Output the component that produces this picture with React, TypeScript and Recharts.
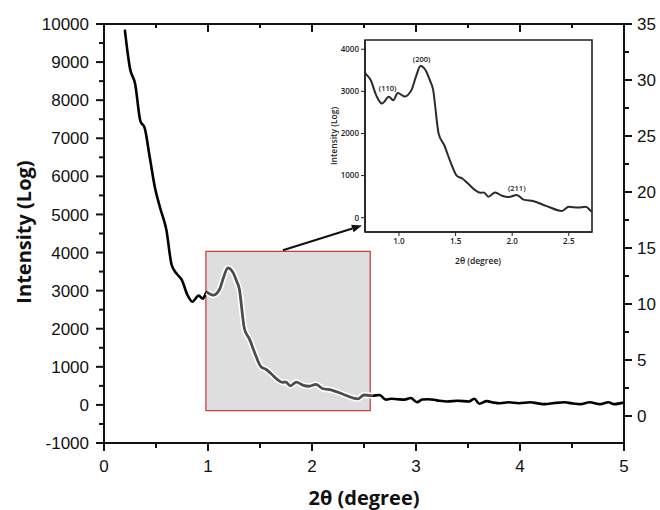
import {
  ComposedChart,
  Line,
  XAxis,
  YAxis,
  ReferenceArea,
  ReferenceLine,
  ReferenceDot,
} from 'recharts'

// SAXS pattern: 2θ (degree) vs intensity
const twoTheta = [
  0.2, 0.25, 0.3, 0.35, 0.39, 0.44, 0.49, 0.54, 0.6, 0.65, 0.7, 0.75, 0.8, 0.85,
  0.91, 0.95, 0.99, 1.05, 1.11, 1.15, 1.19, 1.24, 1.275, 1.3, 1.35, 1.4, 1.46,
  1.51, 1.56, 1.61, 1.67, 1.72, 1.75, 1.79, 1.85, 1.91, 1.97, 2.04, 2.1, 2.19,
  2.3, 2.44, 2.5, 2.58, 2.65, 2.71, 2.76, 2.82, 2.89, 2.95, 3.01, 3.06, 3.12,
  3.2, 3.3, 3.4, 3.51, 3.56, 3.61, 3.68, 3.75, 3.81, 3.89, 3.99, 4.1, 4.17,
  4.24, 4.33, 4.43, 4.5, 4.58, 4.67, 4.77, 4.85, 4.9, 4.99,
]
const intensity = [
  9850, 8830, 8420, 7450, 7280, 6500, 5700, 5170, 4590, 3680, 3440, 3270, 2900,
  2710, 2870, 2790, 2960, 2880, 3030, 3350, 3600, 3480, 3250, 3060, 2000, 1720,
  1290, 1000, 930, 810, 660, 590, 600, 500, 600, 520, 490, 540, 430, 390, 280,
  160, 260, 240, 260, 140, 160, 150, 140, 180, 70, 140, 150, 120, 90, 110, 90,
  160, 30, 100, 60, 45, 70, 45, 70, 40, 20, 50, 70, 40, 20, 70, 20, 70, 20, 60,
]

// axis ticks
const xTicks = [0, 0.5, 1, 1.5, 2, 2.5, 3, 3.5, 4, 4.5, 5]
const leftTicks = [
  -1000, -500, 0, 500, 1000, 1500, 2000, 2500, 3000, 3500, 4000, 4500, 5000,
  5500, 6000, 6500, 7000, 7500, 8000, 8500, 9000, 9500, 10000,
]
const rightTicks = [0, 2.5, 5, 7.5, 10, 12.5, 15, 17.5, 20, 22.5, 25, 27.5, 30, 32.5, 35]
const insetXTicks = [1.0, 1.5, 2.0, 2.5]
const insetYTicks = [0, 1000, 2000, 3000, 4000]

// zoomed region and arrow (data units)
const boxTheta = [0.98, 2.56]
const boxIntensity = [-150, 4030]
const arrowTheta = [1.72, 2.48]
const arrowIntensity = [4060, 4710]

// peak indices in the inset
const peakLabels = ['(110)', '(200)', '(211)']
const peakTheta = [0.9, 1.2, 2.04]
const peakHeight = [3080, 3760, 700]

const Y_TOP = 10000

const chartData = twoTheta.map((t, i) => ({
  t,
  y: intensity[i],
  inBox: t >= boxTheta[0] && t <= 2.58 ? intensity[i] : null,
}))

// top frame edge: one point per tick position
const topEdgeData = xTicks.map((t) => ({ t, edge: Y_TOP }))

const AXIS = '#111'
const TICK_FONT = {
  fontFamily: '"Liberation Sans", Arial, sans-serif',
  fontSize: 17,
  fill: '#111',
}
const SMALL_FONT = {
  fontFamily: '"Open Sans", sans-serif',
  fontSize: 8,
  fontWeight: 600,
  fill: '#222',
}

function BottomTick({ x, y, payload }: any) {
  const major = Number.isInteger(payload.value)
  return (
    <g>
      <line x1={x} x2={x} y1={y} y2={y + (major ? 8 : 5)} stroke={AXIS} strokeWidth={2} />
      {major && (
        <text x={x} y={y + 29} textAnchor="middle" {...TICK_FONT}>
          {payload.value}
        </text>
      )}
    </g>
  )
}

function LeftTick({ x, y, payload }: any) {
  const major = payload.value % 1000 === 0
  return (
    <g>
      <line x1={x - (major ? 8 : 5)} x2={x} y1={y} y2={y} stroke={AXIS} strokeWidth={2} />
      {major && (
        <text x={x - 15} y={y} dy="0.36em" textAnchor="end" {...TICK_FONT}>
          {payload.value}
        </text>
      )}
    </g>
  )
}

function RightTick({ x, y, payload }: any) {
  const major = payload.value % 5 === 0
  return (
    <g>
      <line x1={x} x2={x + (major ? 8 : 5)} y1={y} y2={y} stroke={AXIS} strokeWidth={2} />
      {major && (
        <text x={x + 13} y={y} dy="0.36em" textAnchor="start" {...TICK_FONT}>
          {payload.value}
        </text>
      )}
    </g>
  )
}

// inward tick drawn as the "dot" of the top edge series
function TopTickDot(props: any) {
  const { cx, cy, payload, index } = props
  if (cx == null || cy == null) return <g key={`tt-${index}`} />
  const major = Number.isInteger(payload.t)
  return (
    <line
      key={`tt-${index}`}
      x1={cx}
      x2={cx}
      y1={cy}
      y2={cy + (major ? 8 : 4)}
      stroke={AXIS}
      strokeWidth={2}
    />
  )
}

// pointer line from the zoom box to the inset, with an arrow head
function Arrow(props: any) {
  const { x1, y1, x2, y2 } = props
  const a = Math.atan2(y2 - y1, x2 - x1)
  const len = 10
  const w = 4
  const bx = x2 - len * Math.cos(a)
  const by = y2 - len * Math.sin(a)
  const px = -Math.sin(a) * w
  const py = Math.cos(a) * w
  return (
    <g>
      <line x1={x1} y1={y1} x2={bx} y2={by} stroke="#111" strokeWidth={2} />
      <polygon points={`${x2},${y2} ${bx + px},${by + py} ${bx - px},${by - py}`} fill="#111" />
    </g>
  )
}

export default function App() {
  return (
    <div style={{ position: 'absolute', left: 0, top: 0, width: 660, height: 510, background: '#fff' }}>
      <ComposedChart width={660} height={510} data={chartData} margin={{ top: 24, right: 0, bottom: 0, left: 0 }}>
        <XAxis
          dataKey="t"
          type="number"
          domain={[0, 5]}
          ticks={xTicks}
          interval={0}
          height={67}
          tickSize={0}
          tickMargin={0}
          tickLine={false}
          tick={<BottomTick />}
          axisLine={{ stroke: AXIS, strokeWidth: 2 }}
        />
        <YAxis
          yAxisId="left"
          type="number"
          domain={[-1000, 10000]}
          ticks={leftTicks}
          interval={0}
          width={104}
          tickSize={0}
          tickMargin={0}
          tickLine={false}
          tick={<LeftTick />}
          axisLine={{ stroke: AXIS, strokeWidth: 2 }}
        />
        <YAxis
          yAxisId="right"
          orientation="right"
          type="number"
          domain={[-2.41, 35]}
          ticks={rightTicks}
          interval={0}
          width={36}
          tickSize={0}
          tickMargin={0}
          tickLine={false}
          tick={<RightTick />}
          axisLine={{ stroke: AXIS, strokeWidth: 2 }}
        />
        {/* invisible series so the right axis gets a scale */}
        <Line
          yAxisId="right"
          dataKey="t"
          stroke="none"
          dot={false}
          activeDot={false}
          isAnimationActive={false}
        />
        {/* top frame edge with inward ticks */}
        <Line
          yAxisId="left"
          data={topEdgeData}
          dataKey="edge"
          type="linear"
          stroke={AXIS}
          strokeWidth={2}
          strokeLinecap="square"
          dot={TopTickDot}
          activeDot={false}
          isAnimationActive={false}
        />
        <Line
          yAxisId="left"
          dataKey="y"
          type="monotone"
          stroke="#000"
          strokeWidth={2.6}
          dot={false}
          activeDot={false}
          isAnimationActive={false}
        />
        <ReferenceArea
          yAxisId="left"
          x1={boxTheta[0]}
          x2={boxTheta[1]}
          y1={boxIntensity[0]}
          y2={boxIntensity[1]}
          fill="#dedede"
          fillOpacity={1}
          stroke="#cc4040"
          strokeWidth={1.3}
        />
        <Line
          yAxisId="left"
          dataKey="inBox"
          type="monotone"
          stroke="#ffffff"
          strokeWidth={6}
          dot={false}
          activeDot={false}
          isAnimationActive={false}
        />
        <Line
          yAxisId="left"
          dataKey="inBox"
          type="monotone"
          stroke="#4d4d4d"
          strokeWidth={2.8}
          dot={false}
          activeDot={false}
          isAnimationActive={false}
        />
        <ReferenceLine
          yAxisId="left"
          segment={[
            { x: arrowTheta[0], y: arrowIntensity[0] },
            { x: arrowTheta[1], y: arrowIntensity[1] },
          ]}
          shape={Arrow}
        />
      </ComposedChart>

      {/* inset: zoom of the 0.7 - 2.7 degree region */}
      <div style={{ position: 'absolute', left: 320, top: 36 }}>
        <ComposedChart width={280} height={236} data={chartData} margin={{ top: 4, right: 8, bottom: 0, left: 0 }}>
          <XAxis
            dataKey="t"
            type="number"
            domain={[0.7, 2.705]}
            allowDataOverflow
            ticks={insetXTicks}
            interval={0}
            tickFormatter={(v: number) => v.toFixed(1)}
            height={40}
            tickSize={4}
            tickMargin={2}
            tick={SMALL_FONT}
            tickLine={{ stroke: '#222' }}
            axisLine={{ stroke: '#222', strokeWidth: 1.6 }}
          />
          <YAxis
            type="number"
            domain={[-340, 4220]}
            allowDataOverflow
            ticks={insetYTicks}
            interval={0}
            width={45}
            tickSize={4}
            tickMargin={2}
            tick={SMALL_FONT}
            tickLine={{ stroke: '#222' }}
            axisLine={{ stroke: '#222', strokeWidth: 1.6 }}
          />
          <ReferenceArea
            x1={0.7}
            x2={2.705}
            y1={-340}
            y2={4220}
            fill="#fff"
            fillOpacity={0}
            stroke="#222"
            strokeWidth={1.6}
          />
          <Line
            dataKey="y"
            type="monotone"
            stroke="#2b2b2b"
            strokeWidth={2}
            dot={false}
            activeDot={false}
            isAnimationActive={false}
          />
          {peakLabels.map((p, i) => (
            <ReferenceDot
              key={p}
              x={peakTheta[i]}
              y={peakHeight[i]}
              r={0}
              fill="none"
              stroke="none"
              label={{ value: p, position: 'center', ...SMALL_FONT, fontSize: 7.5 }}
            />
          ))}
        </ComposedChart>
      </div>

      <svg width={660} height={510} style={{ position: 'absolute', left: 0, top: 0, pointerEvents: 'none' }}>
        <text
          x={23}
          y={232}
          transform="rotate(-90 23 232)"
          textAnchor="middle"
          dominantBaseline="central"
          fontFamily='"Open Sans", sans-serif'
          fontWeight={700}
          fontSize={20}
          fill="#111"
        >
          Intensity (Log)
        </text>
        <text
          x={364}
          y={497}
          textAnchor="middle"
          dominantBaseline="central"
          fontFamily='"Open Sans", sans-serif'
          fontWeight={700}
          fontSize={20}
          fill="#111"
        >
          2θ (degree)
        </text>
        <text
          x={333}
          y={136}
          transform="rotate(-90 333 136)"
          textAnchor="middle"
          dominantBaseline="central"
          {...SMALL_FONT}
          fontSize={8.5}
        >
          Intensity (Log)
        </text>
        <text x={478} y={260} textAnchor="middle" dominantBaseline="central" {...SMALL_FONT} fontSize={8.5}>
          2θ (degree)
        </text>
      </svg>
    </div>
  )
}
